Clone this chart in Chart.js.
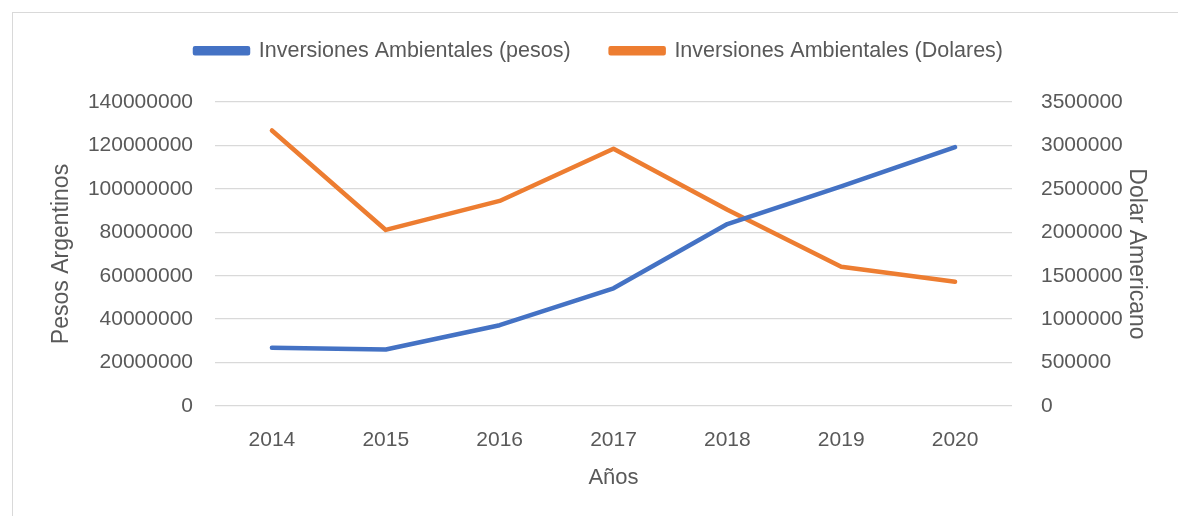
<!DOCTYPE html>
<html>
<head>
<meta charset="utf-8">
<script src="https://cdn.jsdelivr.net/npm/chart.js@4"></script>
<style>
  html, body { margin: 0; padding: 0; background: #fff; overflow: hidden; }
  #frame { position: absolute; left: 12px; top: 12px; width: 2000px; height: 2000px; border: 1px solid #d9d9d9; }
  #wrap { position: absolute; left: 0; top: 0; width: 1178px; height: 516px; }
</style>
</head>
<body>
<div id="frame"></div>
<div id="wrap"><canvas id="grafico"></canvas></div>
<script>
// datos
const anios = ['2014', '2015', '2016', '2017', '2018', '2019', '2020'];
const inversionPesos = [26800000, 26000000, 37200000, 54200000, 83800000, 101100000, 119200000];
const inversionDolares = [3172000, 2027000, 2361000, 2961000, 2260000, 1603000, 1430000];
const ticksPesos = [0, 20000000, 40000000, 60000000, 80000000, 100000000, 120000000, 140000000];
const ticksDolares = [0, 500000, 1000000, 1500000, 2000000, 2500000, 3000000, 3500000];

const gris = '#595959';
const fuenteTicks = { family: 'Liberation Sans', size: 21 };
const fuenteLeyenda = { family: 'Liberation Sans', size: 21.5 };
const fuenteTitulo = { family: 'Liberation Sans', size: 23 };
Chart.defaults.font.family = 'Liberation Sans';
Chart.defaults.color = gris;

// alto fijo de la leyenda
const leyendaAlto = {
  id: 'leyendaAlto',
  beforeInit(chart) {
    const fit = chart.legend.fit;
    chart.legend.fit = function () {
      fit.bind(chart.legend)();
      this.height = 102;
    };
  }
};

const ctx = document.getElementById('grafico');
const grafico = new Chart(ctx, {
  type: 'line',
  data: {
    labels: anios,
    datasets: [
      {
        label: 'Inversiones Ambientales (pesos)',
        data: inversionPesos,
        yAxisID: 'yPesos',
        borderColor: '#4472C4',
        backgroundColor: '#4472C4',
        borderWidth: 4.5,
        borderCapStyle: 'round',
        borderJoinStyle: 'round',
        pointRadius: 0,
        tension: 0
      },
      {
        label: 'Inversiones Ambientales (Dolares)',
        data: inversionDolares,
        yAxisID: 'yDolares',
        borderColor: '#ED7D31',
        backgroundColor: '#ED7D31',
        borderWidth: 4.5,
        borderCapStyle: 'round',
        borderJoinStyle: 'round',
        pointRadius: 0,
        tension: 0
      }
    ]
  },
  options: {
    responsive: true,
    maintainAspectRatio: false,
    animation: false,
    layout: { padding: { top: 0, left: 48, right: 28, bottom: 25 } },
    plugins: {
      legend: {
        position: 'top',
        labels: {
          boxWidth: 53,
          boxHeight: 5,
          padding: 40,
          color: gris,
          font: fuenteLeyenda
        }
      },
      tooltip: { enabled: false }
    },
    scales: {
      x: {
        offset: true,
        grid: { display: false },
        border: { display: false },
        ticks: { color: gris, font: fuenteTicks, padding: 14 },
        title: { display: true, text: 'Años', color: gris, font: { family: 'Liberation Sans', size: 22 }, padding: { top: 14, bottom: 0 } },
        afterFit(scale) { scale.height = 85; }
      },
      yPesos: {
        position: 'left',
        min: 0,
        max: 140000000,
        afterBuildTicks(scale) { scale.ticks = ticksPesos.map(v => ({ value: v })); },
        grid: { color: '#D9D9D9', lineWidth: 1.3, drawTicks: false },
        border: { display: false },
        ticks: { color: gris, font: fuenteTicks, padding: 22, callback: v => String(v) },
        title: { display: true, text: 'Pesos Argentinos', color: gris, font: fuenteTitulo, padding: 0 },
        afterFit(scale) { scale.width = 167; }
      },
      yDolares: {
        position: 'right',
        min: 0,
        max: 3500000,
        afterBuildTicks(scale) { scale.ticks = ticksDolares.map(v => ({ value: v })); },
        grid: { display: false },
        border: { display: false },
        ticks: { color: gris, font: fuenteTicks, padding: 21, callback: v => String(v) },
        title: { display: true, text: 'Dolar Americano', color: gris, font: fuenteTitulo, padding: 0 },
        afterFit(scale) { scale.width = 138; }
      }
    }
  },
  plugins: [leyendaAlto]
});
</script>
</body>
</html>
